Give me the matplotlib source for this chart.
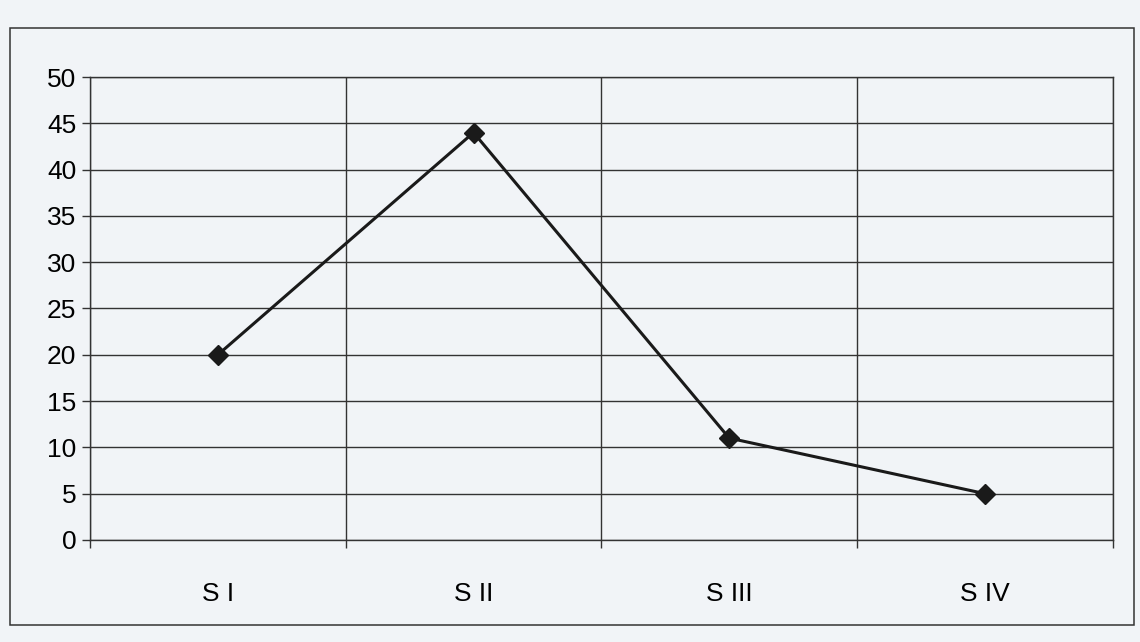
import matplotlib.pyplot as plt
from matplotlib.patches import Rectangle

# dane
categories = ["S I", "S II", "S III", "S IV"]
values = [20, 44, 11, 5]
y_ticks = list(range(0, 55, 5))


def main():
    plt.rcParams["font.family"] = ["Liberation Sans", "DejaVu Sans"]
    paper = "#f1f4f7"

    fig = plt.figure(figsize=(11.4, 6.42), dpi=100, facecolor=paper)
    ax = fig.add_axes([0.079, 0.159, 0.897, 0.721], facecolor=paper)

    # ramka wokol calego wykresu
    fig.patches.append(Rectangle((0.009, 0.027), 0.986, 0.93, transform=fig.transFigure,
                                 fill=False, edgecolor="#333333", linewidth=1.1))

    x = list(range(len(categories)))
    ax.plot(x, values, color="#1a1a1a", linewidth=2.2, marker="D", markersize=10,
            markerfacecolor="#1a1a1a", markeredgecolor="#1a1a1a")

    ax.set_xlim(-0.5, len(categories) - 0.5)
    ax.set_ylim(0, 50)
    ax.set_yticks(y_ticks)

    # granice kategorii jako glowne podzialki, etykiety w srodku
    ax.set_xticks([i - 0.5 for i in range(len(categories) + 1)])
    ax.set_xticklabels([])
    ax.set_xticks(x, minor=True)
    ax.set_xticklabels(categories, minor=True)

    ax.tick_params(axis="y", direction="out", length=6, width=1, color="#333333",
                   labelsize=19, pad=4)
    ax.tick_params(axis="x", which="major", direction="out", length=6, width=1, color="#333333")
    ax.tick_params(axis="x", which="minor", length=0, labelsize=19, pad=30)

    ax.grid(True, which="major", color="#333333", linewidth=1)
    ax.set_axisbelow(True)
    for spine in ax.spines.values():
        spine.set_color("#333333")
        spine.set_linewidth(1)

    plt.savefig("out.png", dpi=100, facecolor=paper)


if __name__ == "__main__":
    main()
